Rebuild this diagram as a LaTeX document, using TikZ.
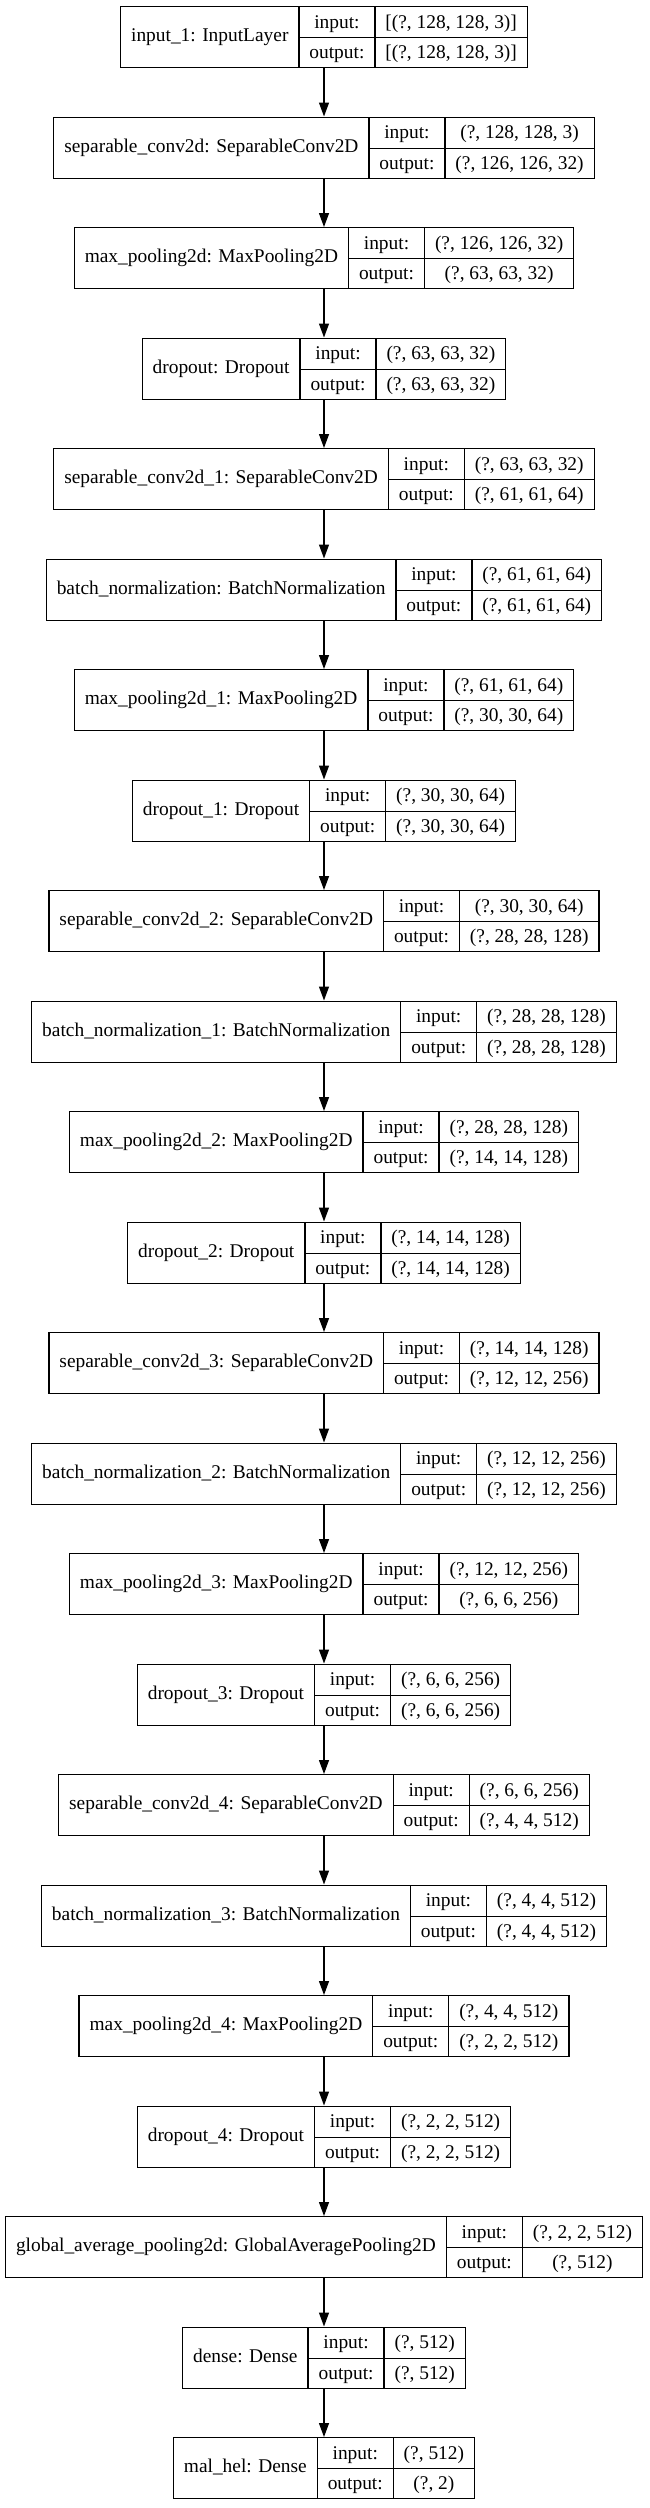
\documentclass[tikz,border=0pt]{standalone}
\usepackage{fontspec}
\setmainfont{Liberation Serif}
\usepackage{multirow}
\usepackage{tikz}
\usetikzlibrary{positioning,arrows.meta}

\setlength{\tabcolsep}{10.5pt}
\setlength{\arrayrulewidth}{1.3pt}
\renewcommand{\arraystretch}{1.309}
\newcommand{\layerbox}[3]{%
  \begin{tabular}{c|c|c}
    \multirow{2}{*}{#1} & input: & #2 \\ \cline{2-3}
     & output: & #3
  \end{tabular}}

\begin{document}
\begin{tikzpicture}[
  x=1pt, y=1pt,
  node distance=48.2pt,
  font=\fontsize{19.4}{23.3}\selectfont,
  layer/.style={draw, line width=1.3pt, inner sep=0pt},
  flow/.style={-{Triangle[length=14pt,width=10pt]}, line width=1.3pt}
]
\useasboundingbox (0,0) rectangle (649,-2508);

\node[layer, anchor=north] (inp) at (324,-6) {\layerbox{input\_1: InputLayer}{[(?, 128, 128, 3)]}{[(?, 128, 128, 3)]}};
\node[layer, below=of inp] (sconv) {\layerbox{separable\_conv2d: SeparableConv2D}{(?, 128, 128, 3)}{(?, 126, 126, 32)}};
\node[layer, below=of sconv] (mpool) {\layerbox{max\_pooling2d: MaxPooling2D}{(?, 126, 126, 32)}{(?, 63, 63, 32)}};
\node[layer, below=of mpool] (drop) {\layerbox{dropout: Dropout}{(?, 63, 63, 32)}{(?, 63, 63, 32)}};
\node[layer, below=of drop] (sconv1) {\layerbox{separable\_conv2d\_1: SeparableConv2D}{(?, 63, 63, 32)}{(?, 61, 61, 64)}};
\node[layer, below=of sconv1] (bn) {\layerbox{batch\_normalization: BatchNormalization}{(?, 61, 61, 64)}{(?, 61, 61, 64)}};
\node[layer, below=of bn] (mpool1) {\layerbox{max\_pooling2d\_1: MaxPooling2D}{(?, 61, 61, 64)}{(?, 30, 30, 64)}};
\node[layer, below=of mpool1] (drop1) {\layerbox{dropout\_1: Dropout}{(?, 30, 30, 64)}{(?, 30, 30, 64)}};
\node[layer, below=of drop1] (sconv2) {\layerbox{separable\_conv2d\_2: SeparableConv2D}{(?, 30, 30, 64)}{(?, 28, 28, 128)}};
\node[layer, below=of sconv2] (bn1) {\layerbox{batch\_normalization\_1: BatchNormalization}{(?, 28, 28, 128)}{(?, 28, 28, 128)}};
\node[layer, below=of bn1] (mpool2) {\layerbox{max\_pooling2d\_2: MaxPooling2D}{(?, 28, 28, 128)}{(?, 14, 14, 128)}};
\node[layer, below=of mpool2] (drop2) {\layerbox{dropout\_2: Dropout}{(?, 14, 14, 128)}{(?, 14, 14, 128)}};
\node[layer, below=of drop2] (sconv3) {\layerbox{separable\_conv2d\_3: SeparableConv2D}{(?, 14, 14, 128)}{(?, 12, 12, 256)}};
\node[layer, below=of sconv3] (bn2) {\layerbox{batch\_normalization\_2: BatchNormalization}{(?, 12, 12, 256)}{(?, 12, 12, 256)}};
\node[layer, below=of bn2] (mpool3) {\layerbox{max\_pooling2d\_3: MaxPooling2D}{(?, 12, 12, 256)}{(?, 6, 6, 256)}};
\node[layer, below=of mpool3] (drop3) {\layerbox{dropout\_3: Dropout}{(?, 6, 6, 256)}{(?, 6, 6, 256)}};
\node[layer, below=of drop3] (sconv4) {\layerbox{separable\_conv2d\_4: SeparableConv2D}{(?, 6, 6, 256)}{(?, 4, 4, 512)}};
\node[layer, below=of sconv4] (bn3) {\layerbox{batch\_normalization\_3: BatchNormalization}{(?, 4, 4, 512)}{(?, 4, 4, 512)}};
\node[layer, below=of bn3] (mpool4) {\layerbox{max\_pooling2d\_4: MaxPooling2D}{(?, 4, 4, 512)}{(?, 2, 2, 512)}};
\node[layer, below=of mpool4] (drop4) {\layerbox{dropout\_4: Dropout}{(?, 2, 2, 512)}{(?, 2, 2, 512)}};
\node[layer, below=of drop4] (gap) {\layerbox{global\_average\_pooling2d: GlobalAveragePooling2D}{(?, 2, 2, 512)}{(?, 512)}};
\node[layer, below=of gap] (dense) {\layerbox{dense: Dense}{(?, 512)}{(?, 512)}};
\node[layer, below=of dense] (malhel) {\layerbox{mal\_hel: Dense}{(?, 512)}{(?, 2)}};

\draw[flow] (inp) -- (sconv);
\draw[flow] (sconv) -- (mpool);
\draw[flow] (mpool) -- (drop);
\draw[flow] (drop) -- (sconv1);
\draw[flow] (sconv1) -- (bn);
\draw[flow] (bn) -- (mpool1);
\draw[flow] (mpool1) -- (drop1);
\draw[flow] (drop1) -- (sconv2);
\draw[flow] (sconv2) -- (bn1);
\draw[flow] (bn1) -- (mpool2);
\draw[flow] (mpool2) -- (drop2);
\draw[flow] (drop2) -- (sconv3);
\draw[flow] (sconv3) -- (bn2);
\draw[flow] (bn2) -- (mpool3);
\draw[flow] (mpool3) -- (drop3);
\draw[flow] (drop3) -- (sconv4);
\draw[flow] (sconv4) -- (bn3);
\draw[flow] (bn3) -- (mpool4);
\draw[flow] (mpool4) -- (drop4);
\draw[flow] (drop4) -- (gap);
\draw[flow] (gap) -- (dense);
\draw[flow] (dense) -- (malhel);
\end{tikzpicture}
\end{document}
